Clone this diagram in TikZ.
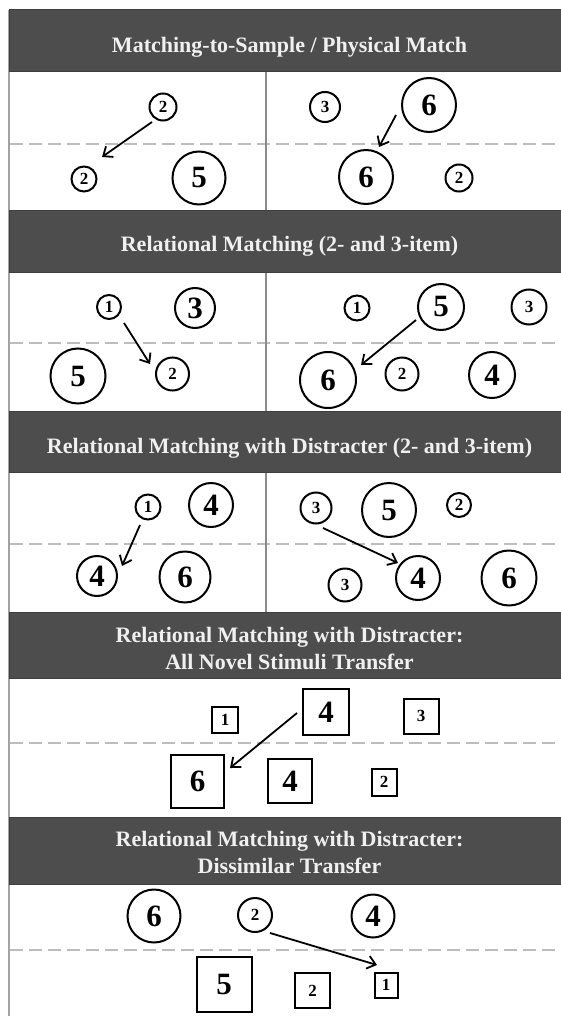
\documentclass[tikz,border=0pt]{standalone}
\usepackage{fontspec}
\setmainfont{Liberation Serif}
\usetikzlibrary{arrows.meta,calc}
\definecolor{hdr}{HTML}{4D4D4D}
\definecolor{hdrtxt}{HTML}{F0F0F0}
\definecolor{dashc}{HTML}{BDBDBD}
\definecolor{divc}{HTML}{8C8C8C}
\begin{document}
\begin{tikzpicture}[x=1pt,y=-1pt,
  hdrbox/.style={fill=hdr,draw=hdr!80!black,line width=1pt,minimum width=561pt,inner sep=0pt},
  title/.style={text=hdrtxt,align=center,inner sep=0pt,font=\bfseries\fontsize{22}{27}\selectfont},
  ring/.style={circle,draw=black,line width=2pt,inner sep=0pt,minimum size=#1},
  sq/.style={rectangle,draw=black,line width=2pt,inner sep=0pt,minimum size=#1},
  sqwh/.style 2 args={rectangle,draw=black,line width=2pt,inner sep=0pt,minimum width=#1,minimum height=#2},
  big/.style={font=\bfseries\fontsize{31}{31}\selectfont},
  small/.style={font=\bfseries\fontsize{17}{17}\selectfont},
  dashline/.style={draw=dashc,line width=2pt,dash pattern=on 13pt off 6pt},
  divline/.style={draw=divc,line width=2.5pt},
  arr/.style={-{Straight Barb[length=8pt,width=13pt]},line width=1.8pt}]
\useasboundingbox (0,0) rectangle (561,1016);
\clip (0,0) rectangle (561,1016);
\fill[white] (0,0) rectangle (561,1016);

% dashed separators
\draw[dashline] (10,144) -- (561,144);
\draw[dashline] (10,343) -- (561,343);
\draw[dashline] (10,544) -- (561,544);
\draw[dashline] (10,743) -- (561,743);
\draw[dashline] (10,950) -- (561,950);

% vertical dividers
\draw[divline] (266,72) -- (266,211);
\draw[divline] (266,272) -- (266,411);
\draw[divline] (266,472) -- (266,612);

% left border
\draw[draw=divc!80,line width=2pt] (9,10) -- (9,1016);

% headers
\node[hdrbox,minimum height=62pt] (h1) at (289.5,41) {};
\node[hdrbox,minimum height=61pt] (h2) at (289.5,241.5) {};
\node[hdrbox,minimum height=61pt] (h3) at (289.5,441.5) {};
\node[hdrbox,minimum height=66pt] (h4) at (289.5,645) {};
\node[hdrbox,minimum height=67pt] (h5) at (289.5,850.5) {};
\node[title] (t1) at ($(h1.center)+(0,6)$) {Matching-to-Sample / Physical Match};
\node[title] (t2) at ($(h2.center)+(0,5)$) {Relational Matching (2- and 3-item)};
\node[title] (t3) at ($(h3.center)+(0,7)$) {Relational Matching with Distracter (2- and 3-item)};
\node[title] (t4) at ($(h4.center)+(0,3)$) {Relational Matching with Distracter:\\All Novel Stimuli Transfer};
\node[title] (t5) at ($(h5.center)+(0,2)$) {Relational Matching with Distracter:\\Dissimilar Transfer};

% panel 1
\node[ring=27pt,small] (A1) at (163,107) {2};
\node[ring=25pt,small] (A2) at (84,179) {2};
\node[ring=53pt,big] (A3) at (199,178) {5};
\node[ring=30pt,small] (B1) at (325,107) {3};
\node[ring=54pt,big] (B2) at (429,105) {6};
\node[ring=54pt,big] (B3) at (366,177) {6};
\node[ring=27pt,small] (B4) at (459,178) {2};
\draw[arr] ($(A1)+(-11,15)$) -- ($(A2)+(18,-22)$);
\draw[arr] ($(B2)+(-33,10)$) -- ($(B3)+(13,-30)$);

% panel 2
\node[ring=24pt,small] (C1) at (109,307) {1};
\node[ring=40pt,big] (C2) at (195,308) {3};
\node[ring=55pt,big] (C3) at (78,376) {5};
\node[ring=33pt,small] (C4) at (172.5,374) {2};
\node[ring=25pt,small] (D1) at (357,308) {1};
\node[ring=46pt,big] (D2) at (441,307) {5};
\node[ring=35pt,small] (D3) at (529,307) {3};
\node[ring=56pt,big] (D4) at (328,380) {6};
\node[ring=33pt,small] (D5) at (402,374) {2};
\node[ring=46pt,big] (D6) at (492,375) {4};
\draw[arr] ($(C1)+(15,16)$) -- ($(C4)+(-22.5,-10)$);
\draw[arr] ($(D2)+(-25,13)$) -- ($(D4)+(33,-15)$);

% panel 3
\node[ring=25pt,small] (E1) at (148,507) {1};
\node[ring=44pt,big] (E2) at (211,505) {4};
\node[ring=40pt,big] (E3) at (97,576) {4};
\node[ring=51pt,big] (E4) at (185,577) {6};
\node[ring=31pt,small] (F1) at (316,508) {3};
\node[ring=54pt,big] (F2) at (389,510) {5};
\node[ring=24pt,small] (F3) at (459,505) {2};
\node[ring=33pt,small] (F4) at (345,585) {3};
\node[ring=44pt,big] (F5) at (418,578) {4};
\node[ring=55pt,big] (F6) at (509,578) {6};
\draw[arr] ($(E1)+(-8,18)$) -- ($(E3)+(25,-10)$);
\draw[arr] ($(F1)+(7,20)$) -- ($(F5)+(-20,-15)$);

% panel 4
\node[sq=26pt,small] (G1) at (225,720) {1};
\node[sq=46pt,big] (G2) at (326,712) {4};
\node[sq=35pt,small] (G3) at (421,716) {3};
\node[sq=53pt,big] (G4) at (197.5,781.5) {6};
\node[sq=44pt,big] (G5) at (290,781) {4};
\node[sqwh={25pt}{27pt},small] (G6) at (384,782) {2};
\draw[arr] ($(G2)+(-29,1)$) -- ($(G4)+(32.5,-13.5)$);

% panel 5
\node[ring=53pt,big] (H1) at (154,916) {6};
\node[ring=34pt,small] (H2) at (255,915) {2};
\node[ring=43pt,big] (H3) at (373,916) {4};
\node[sq=55pt,big] (H4) at (224,984) {5};
\node[sq=35pt,small] (H5) at (312.5,990.5) {2};
\node[sqwh={23pt}{25pt},small] (H6) at (386,985) {1};
\draw[arr] ($(H2)+(15,18)$) -- ($(H6)+(-9,-20)$);
\end{tikzpicture}
\end{document}
